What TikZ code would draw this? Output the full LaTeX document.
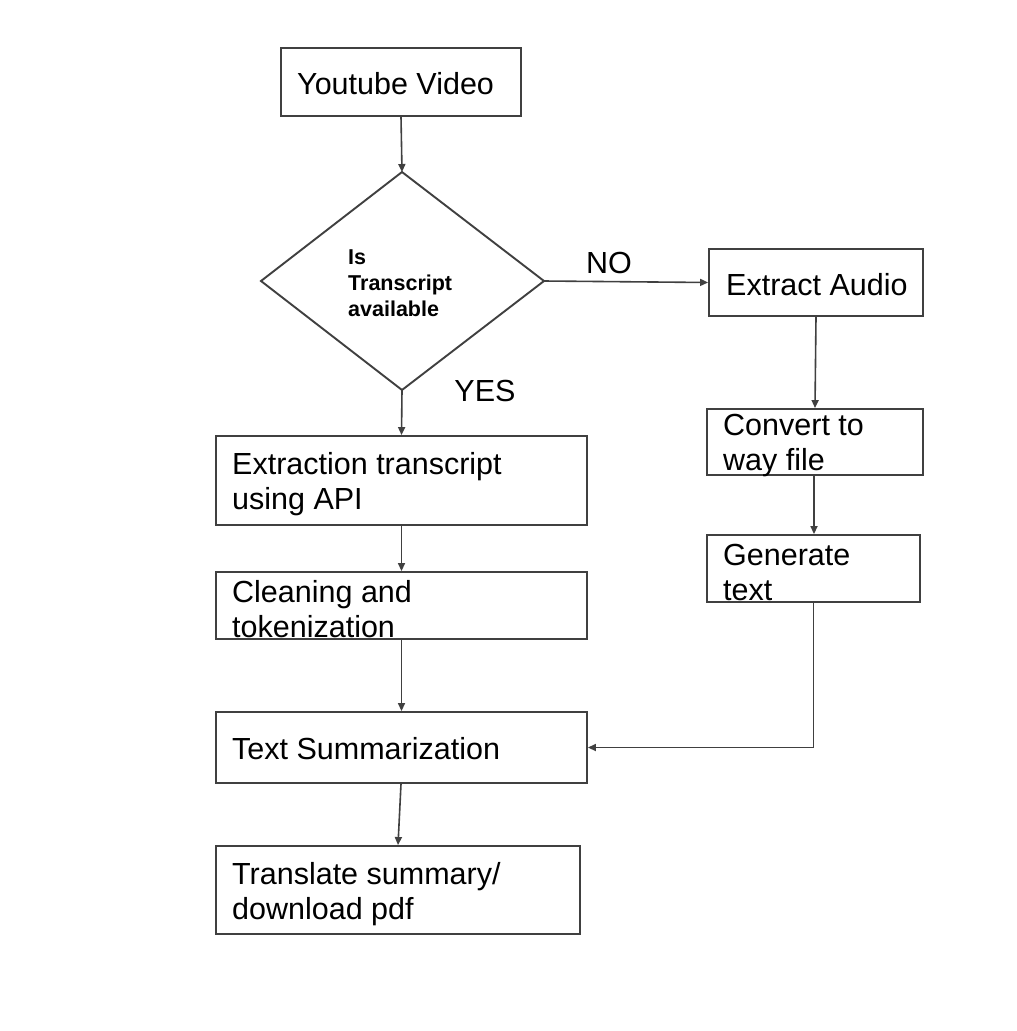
\documentclass[tikz,border=0pt]{standalone}
\usepackage{fontspec}
\setmainfont{Liberation Sans}
\usetikzlibrary{arrows.meta}
\begin{document}
\begin{tikzpicture}[x=1pt,y=-1pt,
  box/.style={draw=black!75,line width=1.9pt,inner sep=0pt},
  txt/.style={anchor=west,inner sep=0pt,align=left,font=\fontsize{30.5}{35}\selectfont},
  dtxt/.style={anchor=west,inner sep=0pt,align=left,font=\fontsize{21.5}{26}\selectfont\bfseries},
  conn/.style={draw=black!75,line width=1.6pt,-{Triangle[length=8pt,width=7pt]}}]
\useasboundingbox (0,0) rectangle (1017,1031);
\fill[white] (0,0) rectangle (1017,1031);
% boxes
\node[box,minimum width=240pt,minimum height=68pt] (yt) at (401,82) {};
\node[box,minimum width=214pt,minimum height=67pt] (ea) at (816,282.5) {};
\node[box,minimum width=216pt,minimum height=66pt] (cv) at (815,442) {};
\node[box,minimum width=213pt,minimum height=67pt] (gt) at (813.5,568.5) {};
\node[box,minimum width=371pt,minimum height=89pt] (ex) at (401.5,480.5) {};
\node[box,minimum width=371pt,minimum height=67pt] (cl) at (401.5,605.5) {};
\node[box,minimum width=371pt,minimum height=71pt] (ts) at (401.5,747.5) {};
\node[box,minimum width=364pt,minimum height=88pt] (tr) at (398,890) {};
% diamond
\coordinate (dt) at (402,172);
\coordinate (db) at (402,390);
\coordinate (dl) at (261,281);
\coordinate (dr) at (544,281);
\draw[draw=black!75,line width=1.9pt,line join=miter] (dt) -- (dr) -- (db) -- (dl) -- cycle;
% texts
\node[txt] (ytt) at (297,84) {Youtube Video};
\node[txt] (eat) at (726,285) {Extract Audio};
\node[txt] (cvt) at (723,446) {Convert to\\way file};
\node[txt] (gtt) at (723,572) {Generate\\text};
\node[txt] (ext) at (232,484) {Extraction transcript\\using API};
\node[txt] (clt) at (232,609) {Cleaning and\\tokenization};
\node[txt] (tst) at (232,749) {Text Summarization};
\node[txt] (trt) at (232,894.5) {Translate summary/\\download pdf};
\node[dtxt] (dtx) at (348,283) {Is\\Transcript\\available};
\node[txt,anchor=center] (no) at (609,263) {NO};
\node[txt,anchor=center] (yes) at (485,391) {YES};
% connectors
\draw[conn] (yt.south) -- (dt);
\draw[conn] (dr) -- (ea.west);
\draw[conn] (db) -- (ex.north);
\draw[conn] (ea.south) -- (cv.north);
\draw[conn] ([xshift=-1pt]cv.south) -- ([xshift=0.5pt]gt.north);
\draw[conn] (ex.south) -- (cl.north);
\draw[conn] (cl.south) -- (ts.north);
\draw[conn] (gt.south) |- (ts.east);
\draw[conn] ([xshift=-0.5pt]ts.south) -- (tr.north);
\end{tikzpicture}
\end{document}
